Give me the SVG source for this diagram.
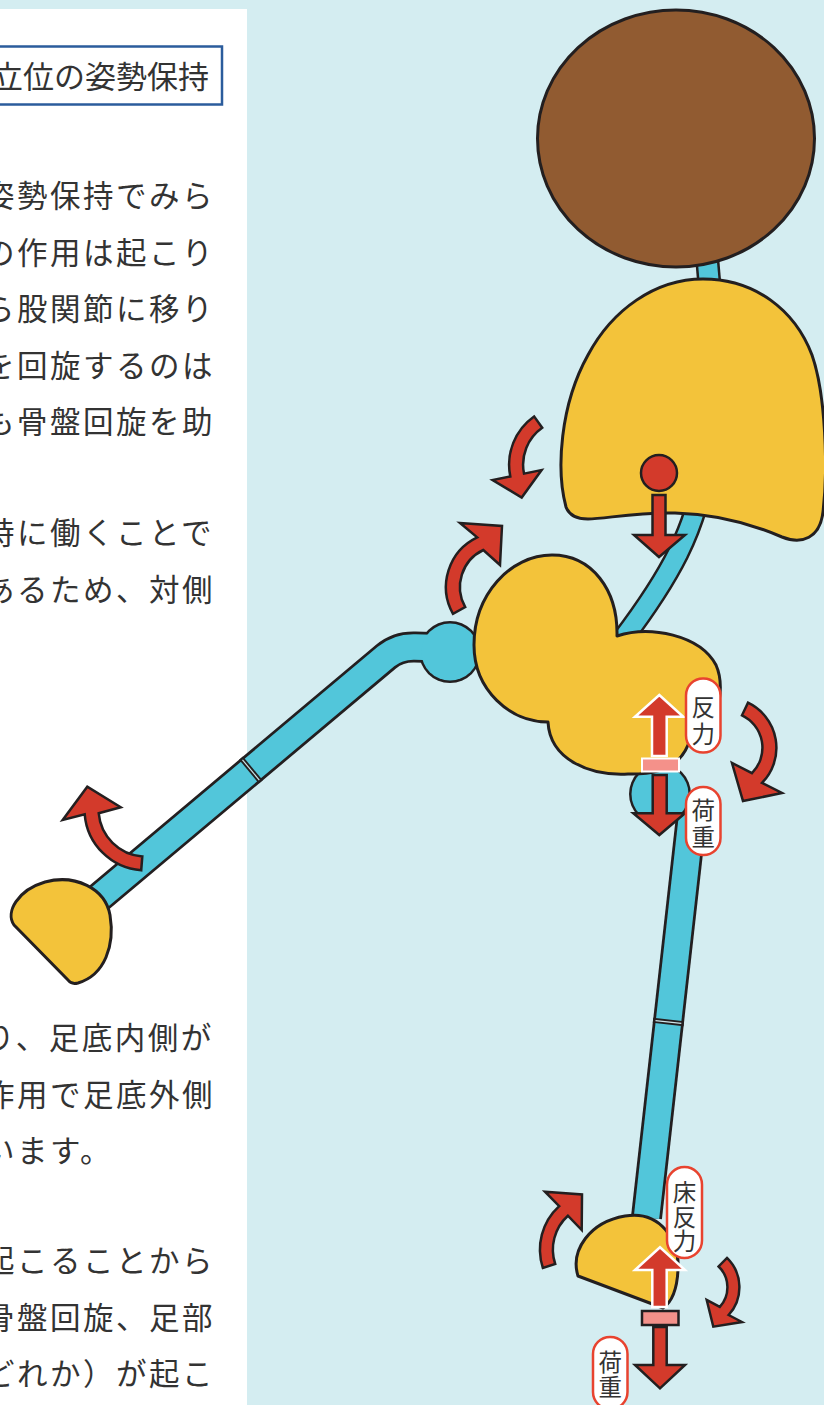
<svg xmlns="http://www.w3.org/2000/svg" width="824" height="1405" viewBox="0 0 824 1405">
  <style>
    .txt { font-family: "Noto Sans CJK JP", "Noto Sans CJK SC", sans-serif; fill: #333333; }
    .para { font-size: 30.5px; letter-spacing: 2.5px; }
    .title { font-size: 31px; }
    .lbl { font-size: 23.5px; text-anchor: middle; }
    .dark { fill: none; stroke: #231f20; stroke-linecap: butt; stroke-linejoin: round; }
    .bone { fill: none; stroke: #52c6da; stroke-linecap: butt; stroke-linejoin: round; }
    .yellow { fill: #f3c33a; stroke: #231f20; stroke-width: 3; stroke-linejoin: round; }
    .red { fill: #d33a2b; stroke: #231f20; stroke-width: 2.5; stroke-linejoin: miter; }
    .redw { fill: #d33a2b; stroke: #ffffff; stroke-width: 2.5; stroke-linejoin: miter; }
    .pill { fill: #ffffff; stroke: #e8432f; stroke-width: 2.5; }
  </style>

  <!-- backdrop and text panel -->
  <rect x="0" y="0" width="824" height="1405" fill="#d4edf1"/>
  <rect x="0" y="9" width="247" height="1396" fill="#ffffff"/>

  <g id="heading">
    <rect x="-10" y="46.5" width="232" height="58" fill="#ffffff" stroke="#2b5c9c" stroke-width="2.5"/>
    <text class="txt title" x="-8" y="88">立位の姿勢保持</text>
  </g>

  <g id="body-text" class="txt para">
    <text x="-16" y="207">姿勢保持でみら</text>
    <text x="-16" y="263.5">の作用は起こり</text>
    <text x="-16" y="320">ら股関節に移り</text>
    <text x="-16" y="376.5">を回旋するのは</text>
    <text x="-16" y="433">も骨盤回旋を助</text>
    <text x="-16" y="544">時に働くことで</text>
    <text x="-16" y="600.5">あるため、対側</text>
    <text x="-16" y="1049">り、足底内側が</text>
    <text x="-16" y="1105.5">作用で足底外側</text>
    <text x="-16" y="1162">います。</text>
    <text x="-16" y="1272">起こることから</text>
    <text x="-16" y="1328.5">骨盤回旋、足部</text>
    <text x="-16" y="1385">どれか）が起こ</text>
  </g>

  <!-- blue skeleton: dark underlay first, then fill on top so joints merge -->
  <g id="skeleton">
    <g class="dark">
      <line x1="706" y1="245" x2="710" y2="292" stroke-width="24"/>
      <path d="M702 485 C692 530 675 570 622 640 L608 658" stroke-width="23"/>
      <path d="M448 648 L415 647 Q398 646.5 386 656.6 L95 901" stroke-width="31"/>
      <line x1="691.7" y1="815" x2="646.5" y2="1217.6" stroke-width="31"/>
    </g>
    <circle cx="450" cy="652" r="31" fill="#231f20"/>
    <circle cx="660" cy="794" r="31" fill="#231f20"/>
    <g class="bone">
      <line x1="706" y1="245" x2="710" y2="292" stroke-width="19"/>
      <path d="M702 485 C692 530 675 570 622 640 L608 658" stroke-width="18"/>
      <path d="M448 648 L415 647 Q398 646.5 386 656.6 L95 901" stroke-width="25.5"/>
      <line x1="691.7" y1="815" x2="646.5" y2="1217.6" stroke-width="25.5"/>
    </g>
    <circle cx="450" cy="652" r="28.5" fill="#52c6da"/>
    <circle cx="660" cy="794" r="28.5" fill="#52c6da"/>
    <!-- knee dividers -->
    <line x1="241" y1="758.1" x2="260.8" y2="781.9" stroke="#231f20" stroke-width="5"/>
    <line x1="242.5" y1="759.9" x2="259.3" y2="780.1" stroke="#cfe6ea" stroke-width="1.2"/>
    <line x1="653" y1="1020.3" x2="683.8" y2="1023.7" stroke="#231f20" stroke-width="5"/>
    <line x1="655.5" y1="1020.6" x2="681.3" y2="1023.4" stroke="#cfe6ea" stroke-width="1.2"/>
  </g>

  <g id="torso">
    <path class="yellow" d="M566 507 C556 470 560 405 588 355 C612 310 655 279 703 279 C755 279 795 310 812 355 C826 395 828 470 823 512 C820 538 802 545 782 537 C752 524 715 514 675 513 C635 512 605 519 588 519 C576 519 569 515 566 507 Z"/>
  </g>

  <g id="pelvis">
    <path class="yellow" d="M548 722 C510 722 474 690 474 645 C474 595 510 555 552 555 C592 555 618 590 617 636 C650 625 700 635 716 665 C728 692 714 735 688 745 C680 765 660 775 628 774 C590 776 550 760 548 722 Z"/>
  </g>

  <g id="left-foot">
    <path class="yellow" d="M14 925 C5 912 18 890 45 882 C75 874 105 888 110 915 C115 945 105 975 78 983 C74 984 70 983 68 980 Z"/>
  </g>

  <g id="right-foot">
    <path class="yellow" d="M578 1276 C570 1250 590 1222 625 1216 C660 1210 680 1240 678 1270 C677 1290 672 1302 663 1308 Z"/>
  </g>

  <g id="head">
    <ellipse cx="676" cy="138.5" rx="138.5" ry="128.5" fill="#915b31" stroke="#231f20" stroke-width="3"/>
  </g>

  <g id="center-of-mass">
    <circle cx="659" cy="473" r="18" fill="#d33a2b" stroke="#231f20" stroke-width="2.5"/>
  </g>

  <!-- force and rotation arrows -->
  <g id="connectors">
    <path class="red" d="M652.5 495 L665.5 495 L665.5 535 L685 535 L659 557 L634 535 L652.5 535 Z"/>
    <path class="red" d="M534.1 416.4 A59 59 0 0 0 510.3 476.4 L492.6 480 L521.7 497.5 L541.6 470 L524 473.6 A45 45 0 0 1 542.2 427.8 Z"/>
    <path class="red" d="M453 613.9 A55 55 0 0 1 477.2 537.4 L460 523 L502 526 L500 565 L483.3 550 A41 41 0 0 0 465.2 607.1 Z"/>
    <path class="red" d="M748 702.7 A50 50 0 0 1 762 782.9 L782 793 L743 801 L732 763 L752 773.1 A36 36 0 0 0 742 715.3 Z"/>
    <path class="red" d="M141.2 870.3 A61.3 61.3 0 0 1 84.7 814.3 L62.7 820 L87.3 786.7 L120.7 807.3 L98.7 813.2 A47.3 47.3 0 0 0 142.3 856.4 Z"/>
    <path class="red" d="M542.9 1268 A58.7 58.7 0 0 1 559.2 1206.1 L545 1191.7 L582 1194.5 L581.7 1230 L567.9 1215.7 A45.7 45.7 0 0 0 555.2 1264 Z"/>
    <path class="red" d="M727 1257.9 A41 41 0 0 1 728.6 1315 L742 1322 L713.3 1326.7 L706.7 1300 L719.8 1306.9 A29 29 0 0 0 718.6 1266.5 Z"/>

    <!-- hip: reaction up, load down -->
    <path class="redw" d="M652 756 L652 716.7 L635 716.7 L659.3 695 L683.3 716.7 L666.7 716.7 L666.7 756 Z"/>
    <rect x="642" y="758.5" width="37" height="13" fill="#f4918a" stroke="#ffffff" stroke-width="2"/>
    <path class="red" d="M652.7 775 L666.7 775 L666.7 813.3 L685 813.3 L659.3 835 L633.3 813.3 L652.7 813.3 Z"/>

    <!-- foot: floor reaction up, load down -->
    <path class="redw" d="M652.3 1307 L652.3 1270 L635 1270 L660 1247.3 L685 1270 L666.7 1270 L666.7 1307 Z"/>
    <rect x="642" y="1311" width="36.5" height="14" fill="#f4918a" stroke="#231f20" stroke-width="2.5"/>
    <path class="red" d="M653.3 1327 L666.7 1327 L666.7 1365 L685 1365 L660 1388.3 L635 1365 L653.3 1365 Z"/>
  </g>

  <g id="label-hip-reaction">
    <rect class="pill" x="686" y="678.5" width="34.5" height="74" rx="17"/>
    <text class="txt lbl"><tspan x="703.3" y="716">反</tspan><tspan x="703.3" y="742.6">力</tspan></text>
  </g>
  <g id="label-hip-load">
    <rect class="pill" x="686" y="787" width="34.5" height="68" rx="17"/>
    <text class="txt lbl"><tspan x="703.3" y="819.3">荷</tspan><tspan x="703.3" y="846">重</tspan></text>
  </g>
  <g id="label-floor-reaction">
    <rect class="pill" x="667" y="1167" width="35" height="91" rx="17.5"/>
    <text class="txt lbl"><tspan x="684.5" y="1201.3">床</tspan><tspan x="684.5" y="1225.5">反</tspan><tspan x="684.5" y="1249.5">力</tspan></text>
  </g>
  <g id="label-foot-load">
    <rect class="pill" x="593" y="1337" width="34.5" height="72" rx="17"/>
    <text class="txt lbl"><tspan x="610.2" y="1370.8">荷</tspan><tspan x="610.2" y="1395.8">重</tspan></text>
  </g>
</svg>
